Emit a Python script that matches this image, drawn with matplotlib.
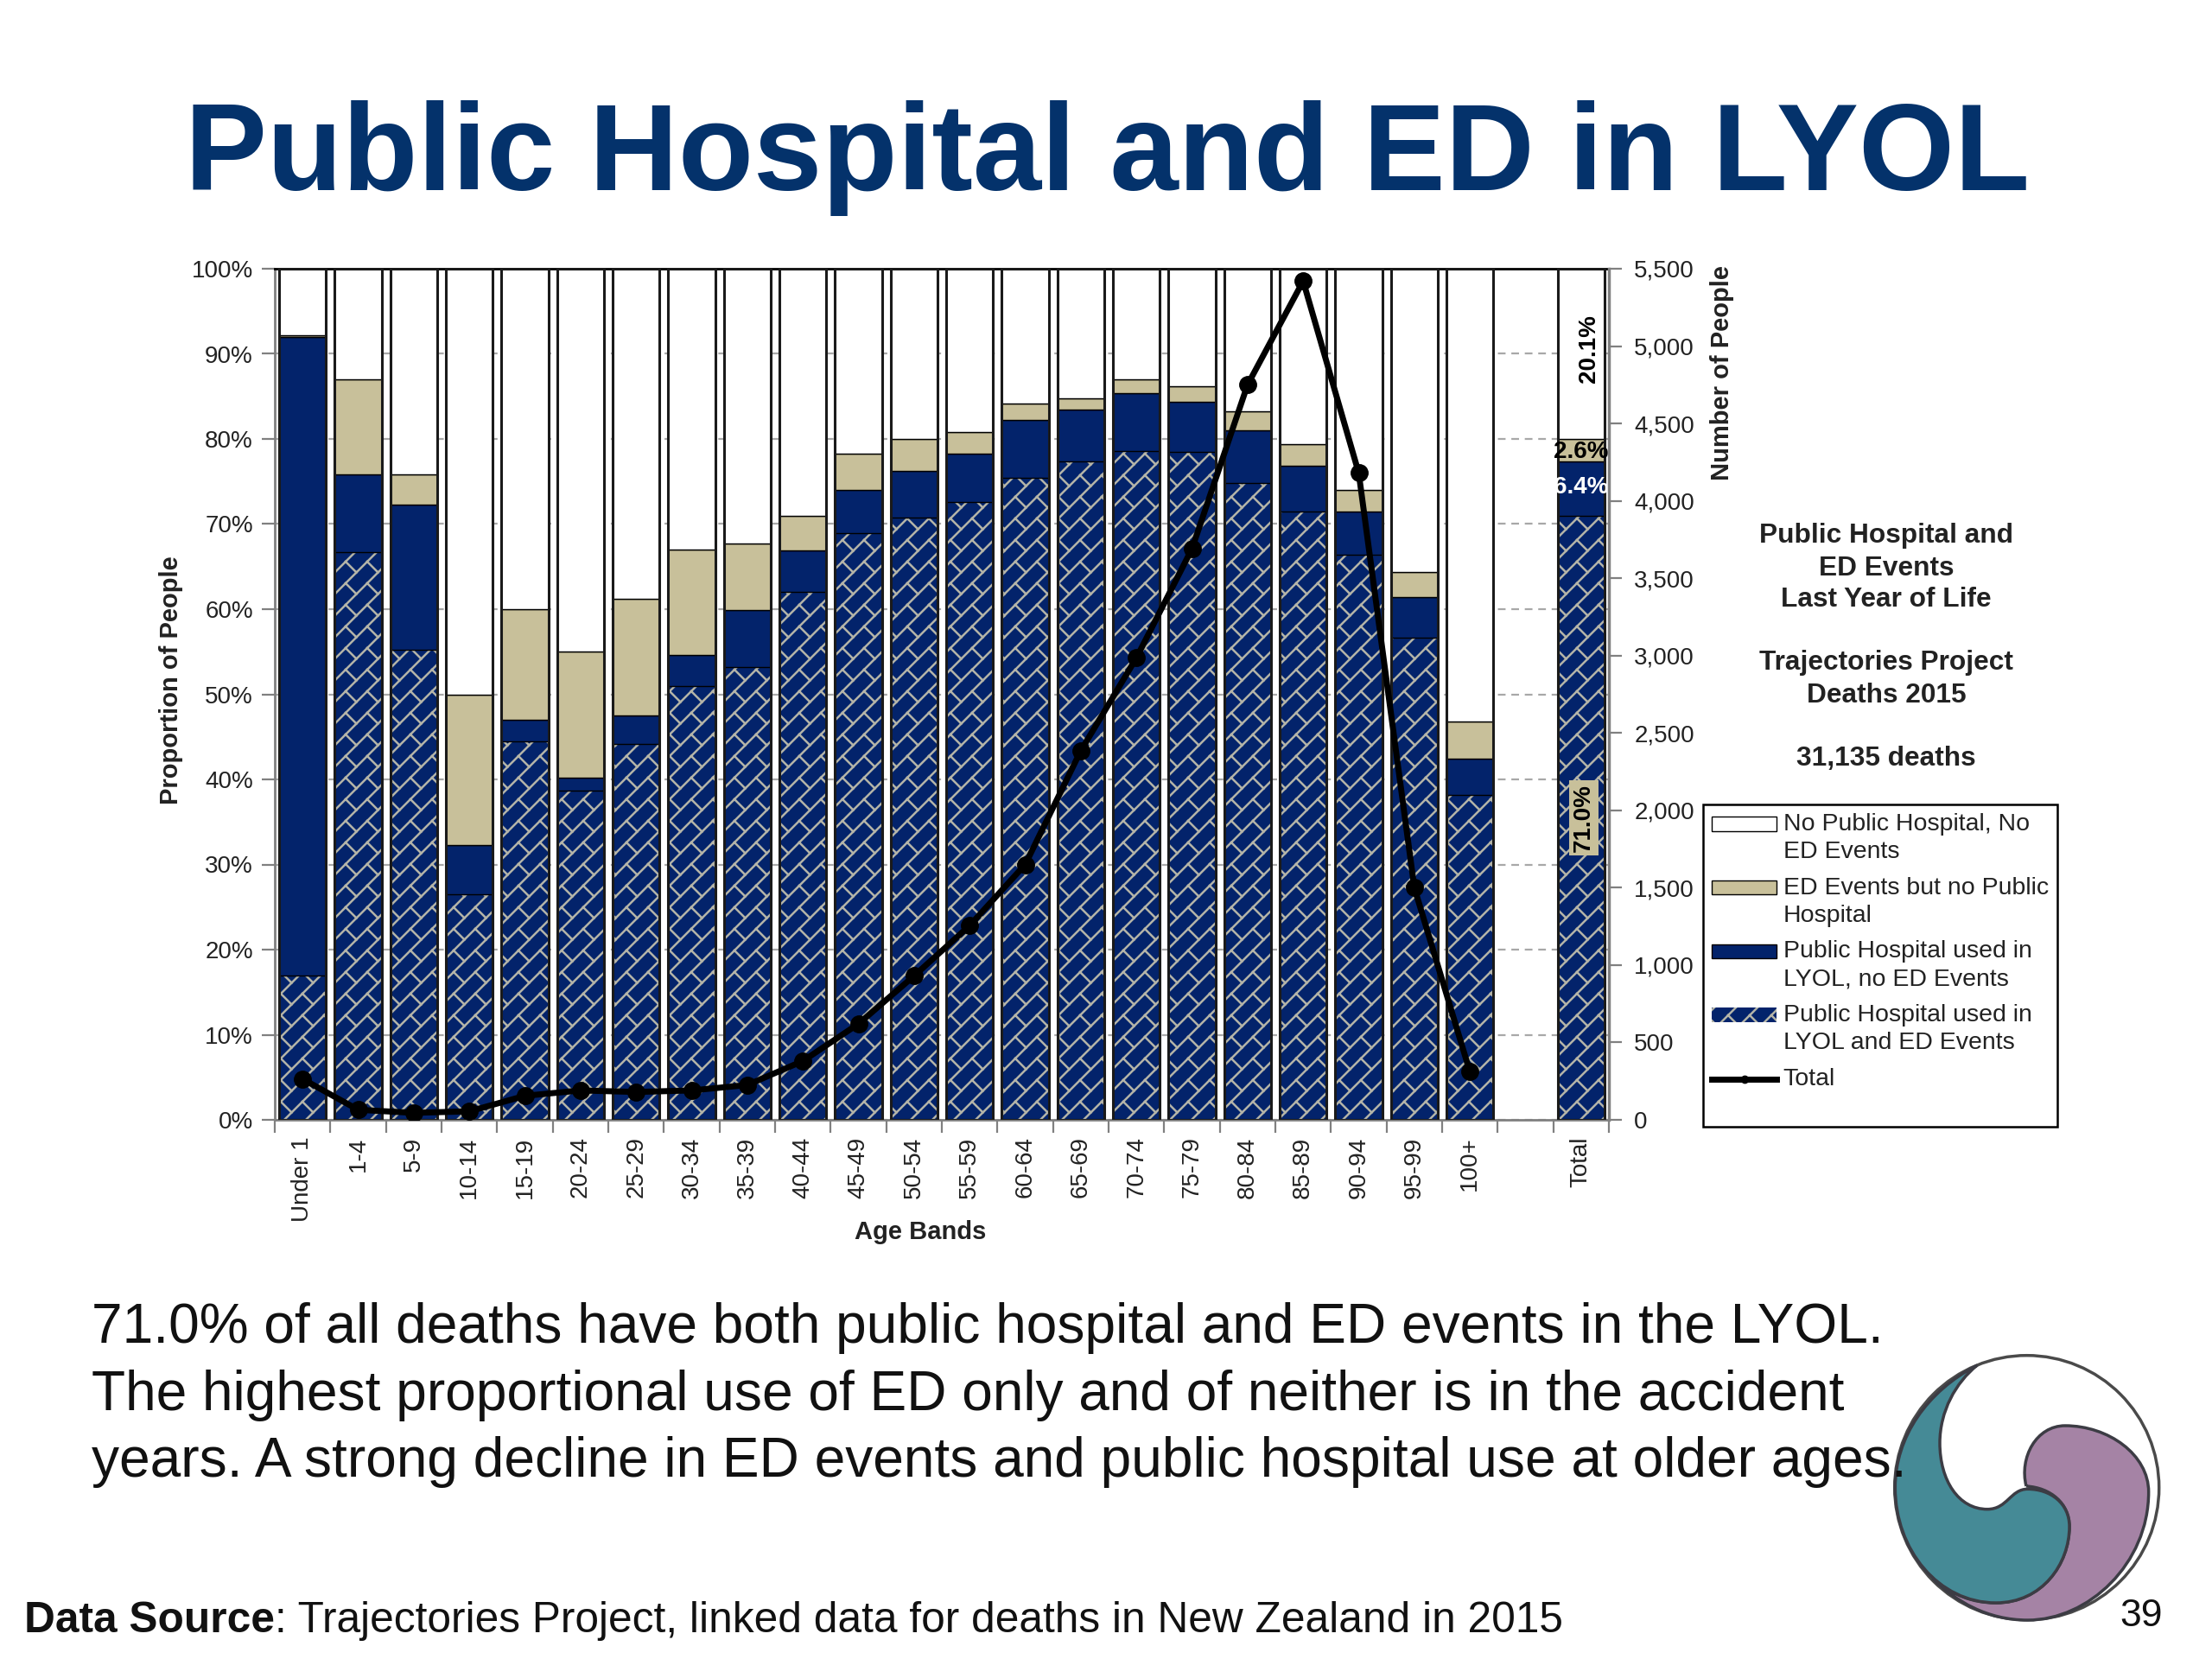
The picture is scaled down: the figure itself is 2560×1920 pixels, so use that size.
import matplotlib
matplotlib.use("Agg")
import matplotlib.hatch as mhatch
import matplotlib.pyplot as plt
import numpy as np
from matplotlib.legend_handler import HandlerLine2D, HandlerPatch
from matplotlib.lines import Line2D
from matplotlib.patches import Circle, PathPatch, Rectangle
from matplotlib.path import Path
from matplotlib.transforms import ScaledTranslation

plt.rcParams["font.family"] = ["Liberation Sans", "DejaVu Sans"]

# Data
age_bands = ["Under 1", "1-4", "5-9", "10-14", "15-19", "20-24", "25-29", "30-34",
             "35-39", "40-44", "45-49", "50-54", "55-59", "60-64", "65-69", "70-74",
             "75-79", "80-84", "85-89", "90-94", "95-99", "100+", "Total"]
both_events = [17, 66.7, 55.2, 26.5, 44.5, 38.7, 44.2, 51, 53.2, 62, 68.9, 70.8,
               72.6, 75.4, 77.4, 78.6, 78.5, 74.8, 71.5, 66.4, 56.6, 38.2, 71.0]
hospital_only = [75, 9.1, 17.1, 5.8, 2.5, 1.5, 3.3, 3.6, 6.7, 4.9, 5.1, 5.4,
                 5.7, 6.8, 6.1, 6.8, 5.9, 6.2, 5.4, 5.1, 4.8, 4.2, 6.4]
ed_only = [0.2, 11.2, 3.5, 17.7, 13, 14.8, 13.7, 12.4, 7.8, 4.1, 4.3, 3.8,
           2.5, 2, 1.3, 1.6, 1.8, 2.2, 2.5, 2.5, 3, 4.4, 2.6]
neither = [7.8, 13, 24.2, 50, 40, 45, 38.8, 33, 32.3, 29, 21.7, 20,
           19.2, 15.8, 15.2, 13, 13.8, 16.8, 20.6, 26, 35.6, 53.2, 20]
total_people = [264, 65, 45, 55, 155, 190, 180, 190, 225, 380, 620, 930,
                1255, 1650, 2385, 2985, 3690, 4750, 5420, 4180, 1500, 310]
legend_labels = ["No Public Hospital, No\nED Events", "ED Events but no Public\nHospital",
                 "Public Hospital used in\nLYOL, no ED Events",
                 "Public Hospital used in\nLYOL and ED Events", "Total\n"]
side_lines = ["Public Hospital and", "ED Events", "Last Year of Life", "",
              "Trajectories Project", "Deaths 2015", "", "31,135 deaths"]
body_lines = ["71.0% of all deaths have both public hospital and ED events in the LYOL.",
              "The highest proportional use of ED only and of neither is in the accident",
              "years. A strong decline in ED events and public hospital use at older ages."]

NAVY = "#03236B"
TAN = "#C8C09A"
HATCH_GREY = "#B4B4A8"
AXIS_GREY = "#808080"
W, H = 2560, 1920
LEFT, RIGHT, TOP, BOTTOM = 318, 1862, 311, 1296


# brick hatch like the Excel pattern, no builtin one looks right
class BrickHatch(mhatch.HatchPatternBase):
    def __init__(self, hatch, density):
        self.n = 4
        self.segs = []
        if "+" in hatch:
            d = 1.0 / self.n
            for k in range(-self.n, self.n + 1):
                self.segs.append(((-1.0, -1.0 + k * d), (2.0, 2.0 + k * d)))
            for k in range(-self.n, 2 * self.n + 1):
                for i in range(-self.n, 2 * self.n + 1):
                    t = i * d
                    self.segs.append(((t, t + k * d), (t + d / 2, t + k * d - d / 2)))
        self.num_vertices = len(self.segs) * 2

    def set_vertices_and_codes(self, vertices, codes):
        for j, (a, b) in enumerate(self.segs):
            vertices[2 * j] = a
            vertices[2 * j + 1] = b
            codes[2 * j] = Path.MOVETO
            codes[2 * j + 1] = Path.LINETO


# legend keys sit on the first text line in the original
HANDLE_UP = 11.8


class UpPatch(HandlerPatch):
    def create_artists(self, legend, orig_handle, xdescent, ydescent, width, height, fontsize, trans):
        return super().create_artists(legend, orig_handle, xdescent, ydescent - HANDLE_UP,
                                      width, height, fontsize, trans)


class UpLine(HandlerLine2D):
    def create_artists(self, legend, orig_handle, xdescent, ydescent, width, height, fontsize, trans):
        return super().create_artists(legend, orig_handle, xdescent, ydescent,
                                      width, height + 2 * HANDLE_UP, fontsize, trans)


mhatch._hatch_types = [BrickHatch]
plt.rcParams["hatch.linewidth"] = 1.8

fig = plt.figure(figsize=(25.6, 19.2), dpi=100, facecolor="white")
ax = fig.add_axes([LEFT / W, 1 - BOTTOM / H, (RIGHT - LEFT) / W, (BOTTOM - TOP) / H])

x = np.array(list(range(22)) + [23])
both = np.array(both_events)
hosp = np.array(hospital_only)
ed = np.array(ed_only)
none = np.array(neither)
bw = 0.84

b1 = ax.bar(x, both, bw, color=NAVY, edgecolor=HATCH_GREY, hatch="+", linewidth=0, zorder=2)
b2 = ax.bar(x, hosp, bw, bottom=both, color=NAVY, edgecolor="black", linewidth=1, zorder=2)
b3 = ax.bar(x, ed, bw, bottom=both + hosp, color=TAN, edgecolor="black", linewidth=1, zorder=2)
b4 = ax.bar(x, none, bw, bottom=both + hosp + ed, color="white", edgecolor="black", linewidth=1, zorder=2)
ax.bar(x, both + hosp + ed + none, bw, fill=False, edgecolor="#1A1A1A", linewidth=2.2, zorder=3)

ax.set_xlim(-0.5, 23.5)
ax.set_ylim(0, 100)
ax.set_yticks(np.arange(0, 101, 10))
ax.set_yticklabels([f"{v}%" for v in range(0, 101, 10)], fontsize=20, color="#222222")
ax.grid(axis="y", color="#A8A8A8", linestyle=(0, (4, 3)), linewidth=1.6, zorder=0)
ax.set_axisbelow(True)
ax.set_xticks(np.arange(-0.5, 24, 1))
ax.set_xticklabels([])
ax.set_xticks(x, minor=True)
ax.set_xticklabels(age_bands, minor=True, rotation=90, fontsize=20, color="#222222")
nudge = ScaledTranslation(0.03, 0, fig.dpi_scale_trans)
for lab in ax.get_xticklabels(minor=True):
    lab.set_transform(lab.get_transform() + nudge)
ax.tick_params(axis="x", which="minor", length=0, pad=14)
ax.tick_params(axis="both", which="major", length=11, width=1.6, color=AXIS_GREY)
ax.tick_params(axis="y", pad=7)
for side in ["left", "bottom", "right"]:
    ax.spines[side].set_color(AXIS_GREY)
    ax.spines[side].set_linewidth(2)
ax.spines["top"].set_color("black")
ax.spines["top"].set_linewidth(2)

ax.set_xlabel("Age Bands", fontsize=21, fontweight="bold", color="#222222")
ax.xaxis.set_label_coords((1065 - LEFT) / (RIGHT - LEFT), -(1412 - BOTTOM) / (BOTTOM - TOP))
ax.set_ylabel("Proportion of People", fontsize=21, fontweight="bold", color="#222222")
ax.yaxis.set_label_coords((212 - LEFT) / (RIGHT - LEFT), (BOTTOM - 787) / (BOTTOM - TOP))

ax2 = ax.twinx()
ax2.set_ylim(0, 5500)
ax2.set_yticks(np.arange(0, 5501, 500))
ax2.set_yticklabels([f"{v:,}" for v in range(0, 5501, 500)], fontsize=20, color="#222222")
ax2.tick_params(axis="y", length=11, width=1.6, color=AXIS_GREY, pad=10)
for side in ["left", "bottom", "top"]:
    ax2.spines[side].set_visible(False)
ax2.spines["right"].set_color(AXIS_GREY)
ax2.spines["right"].set_linewidth(2.5)
ax2.plot(x[:22], total_people, color="black", linewidth=5, marker="o", markersize=14, zorder=5)
ax2.set_ylabel("Number of People", fontsize=21, fontweight="bold", color="#222222")
ax2.yaxis.set_label_coords((1979 - LEFT) / (RIGHT - LEFT), (BOTTOM - 431) / (BOTTOM - TOP))

# labels on the Total bar
tx = x[-1]
ax.text(tx + 0.15, 90.6, "20.1%", rotation=90, ha="center", va="center", fontsize=20,
        fontweight="bold", color="black", zorder=6)
ax.text(tx, 78.5, "2.6%", ha="center", va="center", fontsize=20, fontweight="bold",
        color="black", zorder=6)
ax.text(tx, 74.3, "6.4%", ha="center", va="center", fontsize=20, fontweight="bold",
        color="white", zorder=6)
ax.text(tx + 0.05, 35.5, "71.0%", rotation=90, ha="center", va="center", fontsize=20,
        fontweight="bold", color="black", zorder=6,
        bbox=dict(facecolor=TAN, edgecolor="none", pad=3))

# overlay in pixel coordinates for slide text and logo
ov = fig.add_axes([0, 0, 1, 1], zorder=10)
ov.set_xlim(0, W)
ov.set_ylim(H, 0)
ov.axis("off")
ov.patch.set_alpha(0)

ov.text(1282, 183, "Public Hospital and ED in LYOL", ha="center", va="center",
        fontsize=102.7, fontweight="bold", color="#04326B")

for i, line in zip([620, 658, 694, 731, 767, 805, 841, 878], side_lines):
    ov.text(2183, i, line, ha="center", va="center", fontsize=22.8, fontweight="bold", color="#222222")

for yy, line in zip([1537, 1615, 1692], body_lines):
    ov.text(106, yy, line, ha="left", va="center", fontsize=46.1, color="#111111")


def tr(pts):
    return [(2150 + a / 3, 1500 + b / 3) for a, b in pts]


ov.add_patch(Circle((2345.7, 1721.7), 153, facecolor="white", edgecolor="#4A4A4A", linewidth=2.5))
purple = [(585, 660), (560, 560), (620, 450), (720, 450), (870, 450), (1010, 550), (1010, 680),
          (1010, 930), (800, 1125), (590, 1125), (450, 1125), (340, 1060), (260, 980),
          (330, 1040), (400, 1065), (480, 1065), (640, 1065), (735, 930), (735, 800),
          (735, 720), (670, 665), (585, 660)]
teal = [(415, 240), (240, 330), (130, 490), (130, 665), (130, 880), (280, 1065), (480, 1065),
        (640, 1065), (735, 930), (735, 800), (735, 720), (670, 670), (590, 670),
        (530, 670), (520, 740), (450, 740), (350, 740), (285, 640), (285, 510),
        (285, 400), (340, 300), (415, 240)]
for pts, col in [(purple, "#A583A5"), (teal, "#458A96")]:
    codes = [Path.MOVETO] + [Path.CURVE4] * (len(pts) - 1)
    ov.add_patch(PathPatch(Path(tr(pts), codes), facecolor=col, edgecolor="#3C3C44", linewidth=2.5))

src = ov.text(28, 1876, "Data Source", ha="left", va="center", fontsize=35.75, fontweight="bold", color="#111111")
fig.canvas.draw()
bb = src.get_window_extent()
ov.text(bb.x1, 1876, ": Trajectories Project, linked data for deaths in New Zealand in 2015",
        ha="left", va="center", fontsize=35.75, color="#111111")
ov.text(2478, 1870, "39", ha="center", va="center", fontsize=32, color="#111111")

handles = [b4[0], b3[0], b2[0], b1[0],
           Line2D([], [], color="black", linewidth=5, marker="o", markersize=6)]
leg = ov.legend(handles, legend_labels, loc="upper left", bbox_to_anchor=(1971 / W, 1 - 931 / H),
                bbox_transform=fig.transFigure, borderaxespad=0, fontsize=20.5, fancybox=False,
                framealpha=1, edgecolor="black", handlelength=2.65, handleheight=0.5,
                handletextpad=0.25, labelspacing=0.55, borderpad=0.35, labelcolor="#222222",
                handler_map={Rectangle: UpPatch(), Line2D: UpLine()})
leg.get_frame().set_linewidth(1.8)
for t in leg.get_texts():
    t.set_linespacing(1.3)

fig.savefig("out.png", dpi=100)
